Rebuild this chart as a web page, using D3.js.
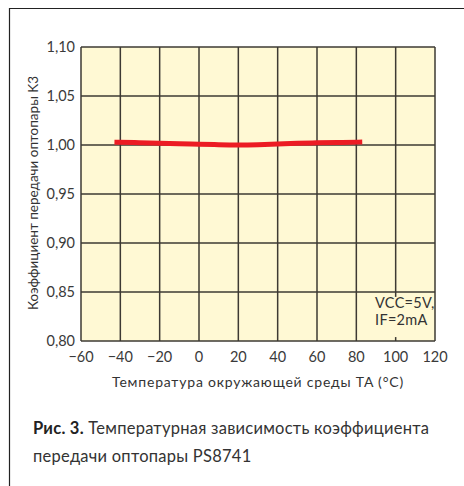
<!DOCTYPE html>
<html>
<head>
<meta charset="utf-8">
<script src="https://cdn.jsdelivr.net/npm/d3@7"></script>
<style>
  body { margin: 0; background: #fff; }
  svg { display: block; font-family: "Lato", "DejaVu Sans", sans-serif; }
</style>
</head>
<body>
<svg id="chart" width="464" height="486"></svg>
<script>
const temps = [-43, -30, -20, -10, 0, 10, 20, 30, 40, 50, 60, 70, 83];
const kValues = [1.0028, 1.0024, 1.0019, 1.0013, 1.0008, 1.0003, 1.0000, 1.0003, 1.0010, 1.0017, 1.0022, 1.0026, 1.0030];
const xTicks = [-60, -40, -20, 0, 20, 40, 60, 80, 100, 120];
const yTicks = [0.80, 0.85, 0.90, 0.95, 1.00, 1.05, 1.10];
const noteLines = ["VCC=5V,", "IF=2mA"];

const svg = d3.select("#chart");
const plot = { left: 81, right: 435, top: 47, bottom: 341 };

const xScale = d3.scaleLinear().domain([-60, 120]).range([plot.left, plot.right]);
const yScale = d3.scaleLinear().domain([0.80, 1.10]).range([plot.bottom, plot.top]);

// outer frame (left + top only)
svg.append("path")
    .attr("d", "M9.5,486 V8.5 H464")
    .attr("fill", "none")
    .attr("stroke", "#222")
    .attr("stroke-width", 1.2);

svg.append("rect")
    .attr("x", plot.left).attr("y", plot.top)
    .attr("width", plot.right - plot.left).attr("height", plot.bottom - plot.top)
    .attr("fill", "#fff9d4");

const grid = svg.append("g").attr("stroke", "#3d3a33").attr("stroke-width", 1.5);
grid.selectAll(".vx").data(xTicks).join("line")
    .attr("x1", d => xScale(d)).attr("x2", d => xScale(d))
    .attr("y1", plot.top).attr("y2", plot.bottom);
grid.selectAll(".hy").data(yTicks).join("line")
    .attr("x1", plot.left).attr("x2", plot.right)
    .attr("y1", d => yScale(d)).attr("y2", d => yScale(d));

// note box hiding the 100 gridline in the bottom row
svg.append("rect")
    .attr("x", xScale(88.5)).attr("y", yScale(0.845))
    .attr("width", xScale(118.5) - xScale(88.5)).attr("height", yScale(0.804) - yScale(0.845))
    .attr("fill", "#fff9d4");
svg.append("g").selectAll("text").data(noteLines).join("text")
    .attr("x", xScale(89.5))
    .attr("y", (d, i) => yScale(0.8335) + i * 17)
    .attr("font-size", 14.5)
    .attr("letter-spacing", 0.3)
    .attr("fill", "#333")
    .text(d => d);

const line = d3.line()
    .x((d, i) => xScale(temps[i]))
    .y(d => yScale(d))
    .curve(d3.curveBasis);

svg.append("path")
    .datum(kValues)
    .attr("fill", "none")
    .attr("stroke", "#ec1c24")
    .attr("stroke-width", 5)
    .attr("d", line);

// tick labels
const fmt = d => d3.format(".2f")(d).replace(".", ",");
svg.append("g").selectAll("text").data(yTicks).join("text")
    .attr("x", 75)
    .attr("y", d => yScale(d) + 5)
    .attr("text-anchor", "end")
    .attr("font-size", 14.5)
    .attr("fill", "#3a3a3a")
    .text(fmt);

svg.append("g").selectAll("text").data(xTicks).join("text")
    .attr("x", d => xScale(d))
    .attr("y", 362)
    .attr("text-anchor", "middle")
    .attr("font-size", 14.5)
    .attr("fill", "#3a3a3a")
    .text(d => d < 0 ? "\u2212" + Math.abs(d) : d);

// axis titles
svg.append("text")
    .attr("x", 258).attr("y", 387)
    .attr("text-anchor", "middle")
    .attr("font-size", 14)
    .attr("letter-spacing", 0.8)
    .attr("fill", "#333")
    .text("Температура окружающей среды TA (°C)");

svg.append("text")
    .attr("transform", "rotate(-90)")
    .attr("x", -193).attr("y", 38)
    .attr("text-anchor", "middle")
    .attr("font-size", 13.5)
    .attr("fill", "#333")
    .text("Коэффициент передачи оптопары K3");

// caption
const cap = svg.append("text").attr("x", 33).attr("y", 434).attr("font-size", 16.5)
    .attr("letter-spacing", 0.25).attr("fill", "#333");
cap.append("tspan").attr("font-weight", "bold").attr("fill", "#222").text("Рис. 3.");
cap.append("tspan").text(" Температурная зависимость коэффициента");
svg.append("text").attr("x", 33).attr("y", 462).attr("font-size", 16.5)
    .attr("letter-spacing", 0.25).attr("fill", "#333")
    .text("передачи оптопары PS8741");
</script>
</body>
</html>
